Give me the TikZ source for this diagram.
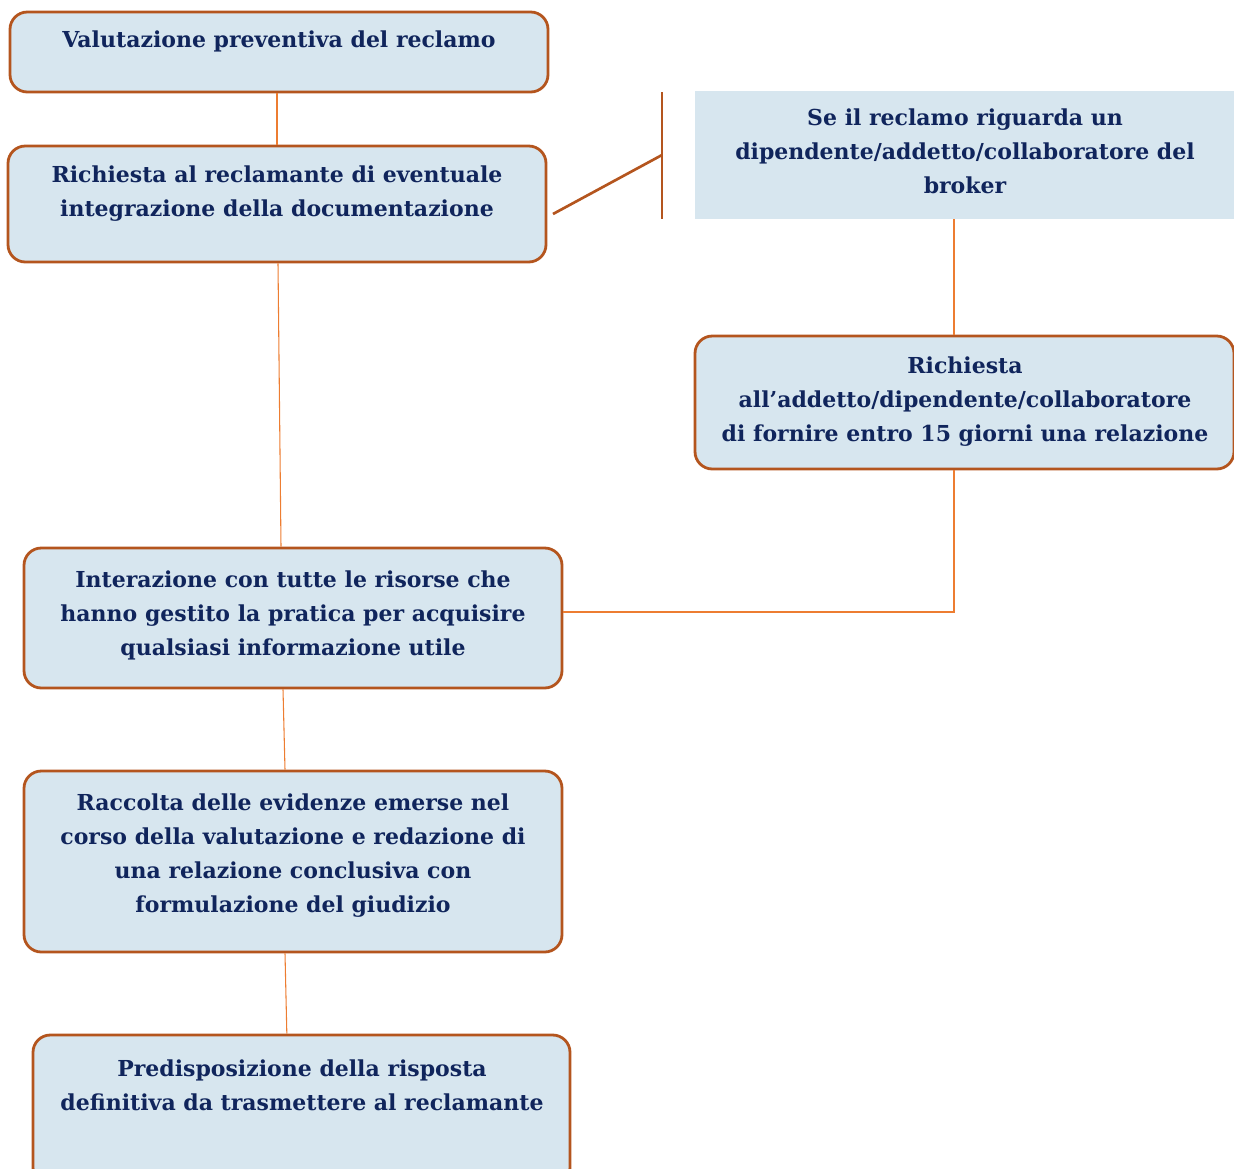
\documentclass[tikz,border=0pt]{standalone}
\usepackage{fontspec}
\setmainfont{DejaVu Serif}
\usetikzlibrary{fit}
\definecolor{boxfill}{HTML}{D7E6EF}
\definecolor{boxline}{HTML}{B4551E}
\definecolor{linkcol}{HTML}{ED7D31}
\definecolor{navy}{HTML}{10255C}
\begin{document}
\begin{tikzpicture}[x=0.75pt, y=-0.75pt, box/.style={draw=boxline, line width=2.1pt, fill=boxfill, rounded corners=13pt, inner sep=0pt}, plainbox/.style={fill=boxfill, inner sep=0pt}, txt/.style={text=navy, font=\fontsize{16.5pt}{25.5pt}\selectfont\bfseries, align=center}, link/.style={draw=linkcol, line width=0.8pt}, bracket/.style={draw=boxline, line width=2pt}]
  \useasboundingbox (0,0) rectangle (1234,1168);

  \node[box, fit={(10,12) (548,92)}] (valutazione) {};
  \node[txt] (tvalutazione) at (279,41) {Valutazione preventiva del reclamo};

  \node[box, fit={(8,146) (546,262)}] (integrazione) {};
  \node[txt] (tintegrazione) at (277,194) {Richiesta al reclamante di eventuale\\integrazione della documentazione};

  \node[plainbox, fit={(695,91) (1234,219)}] (dipendente) {};
  \node[txt] (tdipendente) at (965,151) {Se il reclamo riguarda un\\dipendente/addetto/collaboratore del\\broker};

  \node[box, fit={(695,336) (1234,469)}] (relazione) {};
  \node[txt] (trelazione) at (965,402) {Richiesta\\all’addetto/dipendente/collaboratore\\di fornire entro 15 giorni una relazione};

  \node[box, fit={(24,548) (562,688)}] (interazione) {};
  \node[txt] (tinterazione) at (293,615) {Interazione con tutte le risorse che\\hanno gestito la pratica per acquisire\\qualsiasi informazione utile};

  \node[box, fit={(24,771) (562,952)}] (raccolta) {};
  \node[txt] (traccolta) at (293,856) {Raccolta delle evidenze emerse nel\\corso della valutazione e redazione di\\una relazione conclusiva con\\formulazione del giudizio};

  \node[box, fit={(33,1035) (570,1185)}] (risposta) {};
  \node[txt] (trisposta) at (302,1085) {Predisposizione della risposta\\definitiva da trasmettere al reclamante};

  % bracket towards the side note
  \coordinate (bracketfoot) at (553,214);
  \coordinate (brackettop) at (662,92);
  \coordinate (bracketmid) at (662,155);
  \coordinate (bracketbottom) at (662,219);
  \draw[bracket] (bracketfoot) -- (bracketmid);
  \draw[bracket] (brackettop) -- (bracketbottom);

  \draw[link] ([xshift=-1.5pt]valutazione.south) -- (integrazione.north);
  \draw[link] ([xshift=0.75pt]integrazione.south) -- ([xshift=-9pt]interazione.north);
  \draw[link] ([xshift=-7.5pt]interazione.south) -- ([xshift=-6pt]raccolta.north);
  \draw[link] ([xshift=-6pt]raccolta.south) -- ([xshift=-11pt]risposta.north);
  \draw[link] ([xshift=-7.9pt]dipendente.south) -- ([xshift=-7.9pt]relazione.north);
  \draw[link] ([xshift=-7.9pt]relazione.south) |- ([yshift=4.5pt]interazione.east);
\end{tikzpicture}
\end{document}
